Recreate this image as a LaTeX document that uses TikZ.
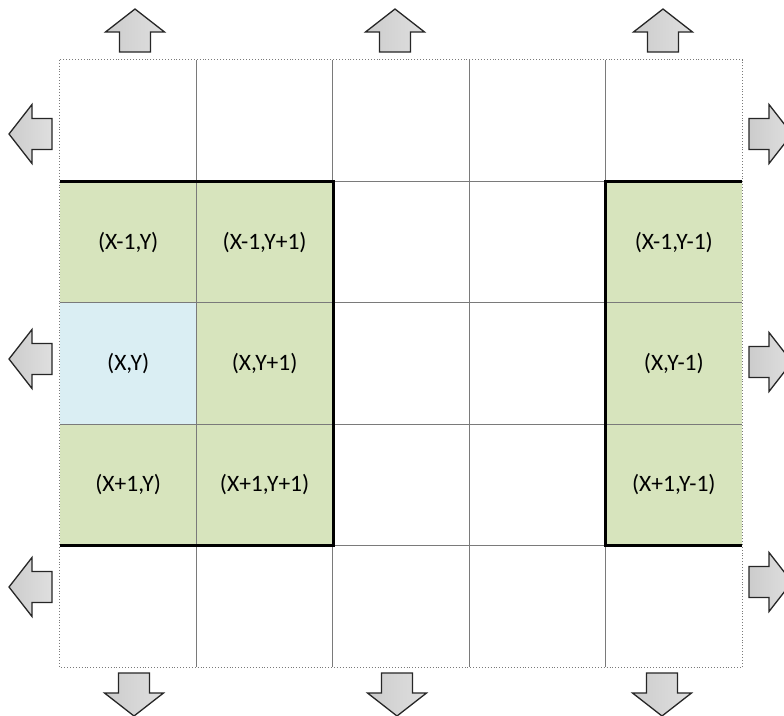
\documentclass[tikz,border=0pt]{standalone}
\usepackage{fontspec}
\setmainfont{Carlito}
\usepackage{tikz}
\usetikzlibrary{positioning, calc}
\definecolor{cellgreen}{HTML}{D7E4BD}
\definecolor{cellblue}{HTML}{DAEEF3}
\definecolor{gridgray}{HTML}{7A7A7A}

\begin{document}
\begin{tikzpicture}[
  x=1pt, y=-1pt,
  cell/.style={
    rectangle, minimum width=136.4pt, minimum height=121.4pt,
    inner sep=0pt, draw=none, font=\fontsize{23.5}{27}\selectfont,
  },
  gridline/.style={draw=gridgray, line width=0.9pt},
  outerline/.style={draw=gridgray, line width=0.9pt, dotted},
  frameline/.style={draw=black, line width=3pt, line join=miter},
  arrowfill/.style={
    draw=black!85, line width=1.3pt, line join=miter,
    left color=gray!40, middle color=white, right color=gray!25,
  },
  pics/blockarrow/.style={
    code={
      \draw[arrowfill] (0,0) -- (29.5,23) -- (15.5,23) -- (15.5,43)
        -- (-15.5,43) -- (-15.5,23) -- (-29.5,23) -- cycle;
    }
  },
]

  % Page
  \fill[white] (0,0) rectangle (784,715);
  \useasboundingbox (0,0) rectangle (784,715);

  % Grid cells
  \foreach \r in {0,...,4}
    \foreach \c in {0,...,4}
      \node[cell] (cell-\r-\c) at ({60+136.4*(\c+0.5)},{60+121.4*(\r+0.5)}) {};

  % Labelled cells
  \foreach \r/\c/\lbl/\col in {
      1/0/{(X-1,Y)}/cellgreen, 1/1/{(X-1,Y+1)}/cellgreen, 1/4/{(X-1,Y-1)}/cellgreen,
      2/0/{(X,Y)}/cellblue,    2/1/{(X,Y+1)}/cellgreen,   2/4/{(X,Y-1)}/cellgreen,
      3/0/{(X+1,Y)}/cellgreen, 3/1/{(X+1,Y+1)}/cellgreen, 3/4/{(X+1,Y-1)}/cellgreen}
    \node[cell, fill=\col] (lbl-\r-\c) at (cell-\r-\c) {\lbl};

  % Grid lines
  \foreach \c in {1,...,4}
    \draw[gridline] (cell-0-\c.north west) -- (cell-4-\c.south west);
  \foreach \r in {1,...,4}
    \draw[gridline] (cell-\r-0.north west) -- (cell-\r-4.north east);
  \draw[outerline] (cell-0-0.north west) rectangle (cell-4-4.south east);

  % Neighbourhood frames
  \draw[frameline] (cell-1-0.north west) -- (cell-1-1.north east)
    -- (cell-3-1.south east) -- (cell-3-0.south west);
  \draw[frameline] (cell-1-4.north east) -- (cell-1-4.north west)
    -- (cell-3-4.south west) -- (cell-3-4.south east);

  % Wrap-around arrows
  \foreach \ax in {135,395,663}
    \pic at (\ax,9) {blockarrow};
  \foreach \ax in {134,397,662}
    \pic[rotate=180] at (\ax,716) {blockarrow};
  \foreach \ay in {134,359,587}
    \pic[rotate=90] at (9,\ay) {blockarrow};
  \foreach \ay in {134,362,582}
    \pic[rotate=-90] at (792,\ay) {blockarrow};

\end{tikzpicture}
\end{document}
